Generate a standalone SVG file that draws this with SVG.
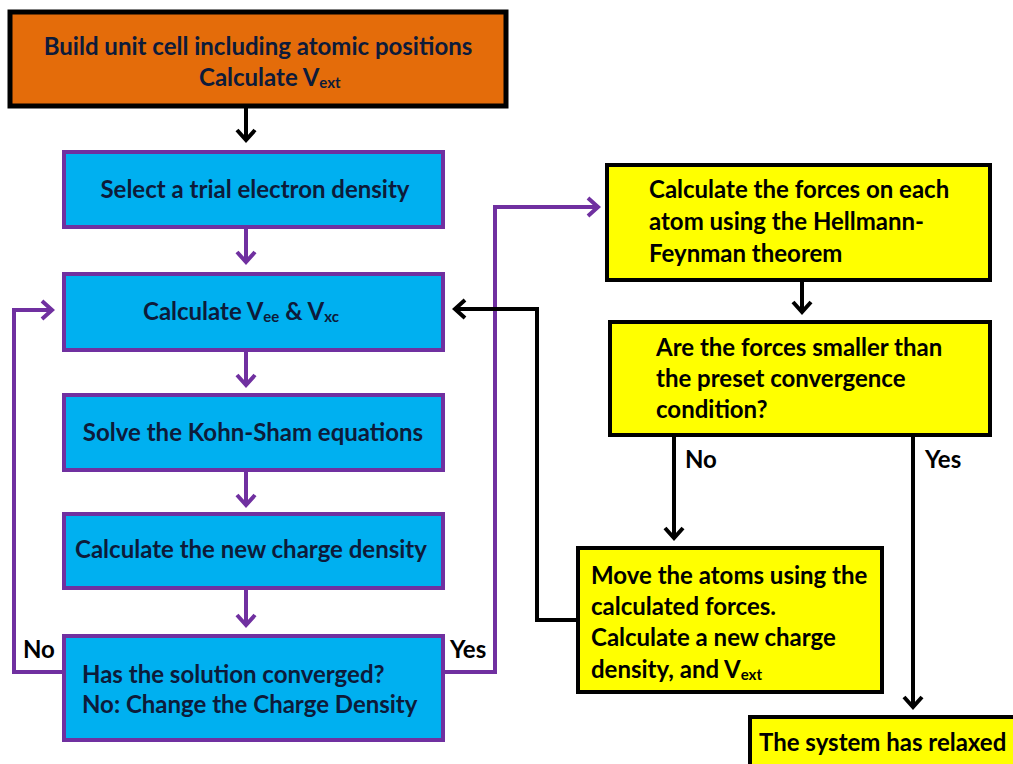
<svg xmlns="http://www.w3.org/2000/svg" width="1013" height="764" viewBox="0 0 1013 764">
<defs>
<style>
.t{font-family:Lato,"Liberation Sans",sans-serif;font-weight:bold;font-size:24px}
.s{font-size:15px}
.b{fill:#0d1b3a}
.k{fill:#000}
.blue{fill:#00b0f0;stroke:#7030a0;stroke-width:4}
.yel{fill:#ffff00;stroke:#000;stroke-width:4}
.pc{fill:none;stroke:#7030a0;stroke-width:4}
.kc{fill:none;stroke:#000;stroke-width:4}
</style>
<marker id="ap" markerUnits="userSpaceOnUse" markerWidth="30" markerHeight="30" viewBox="-15 -15 30 30" refX="0" refY="0" orient="auto" overflow="visible">
<path d="M-10,-9 L0,0 L-10,9" fill="none" stroke="#7030a0" stroke-width="4"/>
</marker>
<marker id="ak" markerUnits="userSpaceOnUse" markerWidth="30" markerHeight="30" viewBox="-15 -15 30 30" refX="0" refY="0" orient="auto" overflow="visible">
<path d="M-10,-9 L0,0 L-10,9" fill="none" stroke="#000" stroke-width="4"/>
</marker>
</defs>
<rect width="1013" height="764" fill="#fff"/>
<g id="connectors">
<path class="kc" d="M246,108 V140" marker-end="url(#ak)"/>
<path class="pc" d="M246,229 V262" marker-end="url(#ap)"/>
<path class="pc" d="M246,352 V385" marker-end="url(#ap)"/>
<path class="pc" d="M246,472 V505" marker-end="url(#ap)"/>
<path class="pc" d="M246,590 V625" marker-end="url(#ap)"/>
<path class="pc" d="M62,672 H14 V310 H52" marker-end="url(#ap)"/>
<path class="pc" d="M445,672 H495 V207 H598" marker-end="url(#ap)"/>
<path class="kc" d="M802,282 V312" marker-end="url(#ak)"/>
<path class="kc" d="M576,620 H537 V309 H455" marker-end="url(#ak)"/>
<path class="kc" d="M674,437 V538" marker-end="url(#ak)"/>
<path class="kc" d="M913,437 V707" marker-end="url(#ak)"/>
<text class="t k" x="23" y="658">No</text>
<text class="t k" x="450" y="658">Yes</text>
<text class="t k" x="685" y="468">No</text>
<text class="t k" x="925" y="468">Yes</text>
</g>
<g id="n-build">
<rect x="10" y="12" width="496" height="94" fill="#e46c0a" stroke="#000" stroke-width="5"/>
<text class="t b" x="258" y="55" text-anchor="middle">Build unit cell including atomic positions</text>
<text class="t b" x="199" y="86">Calculate V<tspan class="s" dy="2">ext</tspan></text>
</g>
<g id="n-trial">
<rect class="blue" x="64" y="152" width="379" height="75"/>
<text class="t b" x="255" y="198" text-anchor="middle">Select a trial electron density</text>
</g>
<g id="n-vee">
<rect class="blue" x="64" y="274" width="379" height="76"/>
<text class="t b" x="143" y="320">Calculate V<tspan class="s" dy="2">ee</tspan><tspan dy="-2"> &amp; V</tspan><tspan class="s" dy="2">xc</tspan></text>
</g>
<g id="n-ks">
<rect class="blue" x="64" y="395" width="379" height="75"/>
<text class="t b" x="253" y="441" text-anchor="middle">Solve the Kohn-Sham equations</text>
</g>
<g id="n-charge">
<rect class="blue" x="64" y="514" width="379" height="74"/>
<text class="t b" x="251" y="558" text-anchor="middle">Calculate the new charge density</text>
</g>
<g id="n-conv">
<rect class="blue" x="64" y="636" width="379" height="104"/>
<text class="t b" x="82" y="683">Has the solution converged?</text>
<text class="t b" x="82" y="713">No: Change the Charge Density</text>
</g>
<g id="n-forces">
<rect class="yel" x="607" y="165" width="383" height="115"/>
<text class="t k" x="649" y="198">Calculate the forces on each</text>
<text class="t k" x="649" y="230">atom using the Hellmann-</text>
<text class="t k" x="649" y="262">Feynman theorem</text>
</g>
<g id="n-smaller">
<rect class="yel" x="610" y="322" width="380" height="113"/>
<text class="t k" x="656" y="356">Are the forces smaller than</text>
<text class="t k" x="656" y="387">the preset convergence</text>
<text class="t k" x="656" y="418">condition?</text>
</g>
<g id="n-move">
<rect class="yel" x="578" y="548" width="304" height="144"/>
<text class="t k" x="591" y="584">Move the atoms using the</text>
<text class="t k" x="591" y="615">calculated forces.</text>
<text class="t k" x="591" y="646">Calculate a new charge</text>
<text class="t k" x="591" y="678">density, and V<tspan class="s" dy="2">ext</tspan></text>
</g>
<g id="n-relaxed">
<rect class="yel" x="750" y="717" width="275" height="52"/>
<text class="t k" x="759" y="751">The system has relaxed</text>
</g>
</svg>
